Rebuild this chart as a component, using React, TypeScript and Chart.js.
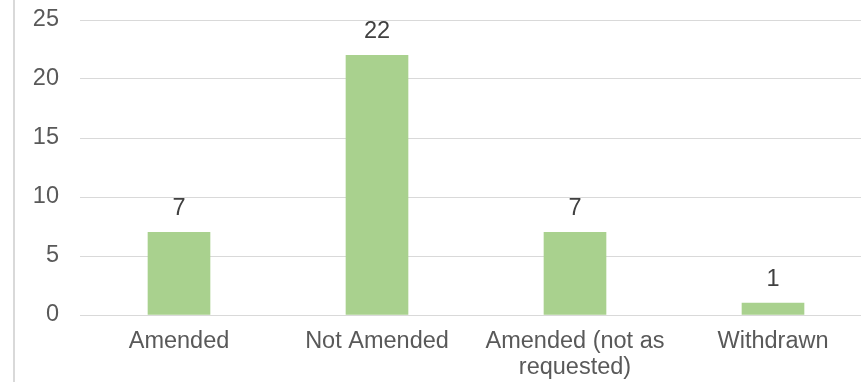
import React, { useEffect, useRef } from "react";
import { Chart, registerables } from "chart.js";

Chart.register(...registerables);

const categories: (string | string[])[] = [
  "Amended",
  "Not Amended",
  ["Amended (not as", "requested)"],
  "Withdrawn",
];
const counts: number[] = [7, 22, 7, 1];
const yMin = 0;
const yMax = 25;
const yStep = 5;

const FONT = "'Liberation Sans', Arial, sans-serif";
const FS = 23.5;

const valueLabels = {
  id: "valueLabels",
  afterDatasetsDraw(chart: any) {
    const ctx = chart.ctx;
    const meta = chart.getDatasetMeta(0);
    ctx.save();
    ctx.font = `${FS}px ${FONT}`;
    ctx.fillStyle = "#404040";
    ctx.textAlign = "center";
    ctx.textBaseline = "alphabetic";
    meta.data.forEach((bar: any, i: number) => {
      ctx.fillText(String(counts[i]), bar.x, bar.y - 17);
    });
    // left frame line
    ctx.strokeStyle = "#d9d9d9";
    ctx.lineWidth = 2;
    ctx.beginPath();
    ctx.moveTo(14, 0);
    ctx.lineTo(14, chart.height);
    ctx.stroke();
    ctx.restore();
  },
};

export default function App() {
  const ref = useRef<HTMLCanvasElement | null>(null);
  useEffect(() => {
    if (!ref.current) return;
    const chart = new Chart(ref.current, {
      type: "bar",
      data: {
        labels: categories,
        datasets: [
          {
            data: counts,
            backgroundColor: "#a9d18e",
            barThickness: 62,
          },
        ],
      },
      options: {
        animation: false,
        responsive: false,
        devicePixelRatio: 1,
        layout: { padding: { left: 0, right: 8, top: 20, bottom: 0 } },
        plugins: {
          legend: { display: false },
          tooltip: { enabled: false },
        },
        scales: {
          x: {
            grid: { display: false, drawTicks: false },
            border: { display: false },
            ticks: {
              color: "#595959",
              font: { family: FONT, size: FS, lineHeight: 1.11 },
              padding: 13,
              maxRotation: 0,
              autoSkip: false,
            },
            afterFit(scale: any) {
              scale.height = 67;
              scale.paddingLeft = 0;
              scale.paddingRight = 0;
              scale.paddingTop = 0;
              scale.paddingBottom = 0;
            },
          },
          y: {
            min: yMin,
            max: yMax,
            grid: { color: "#d9d9d9", lineWidth: 1, drawTicks: false },
            border: { display: false },
            ticks: {
              stepSize: yStep,
              color: "#595959",
              font: { family: FONT, size: FS },
              padding: 21,
            },
            afterFit(scale: any) {
              scale.width = 80;
              scale.paddingTop = 0;
              scale.paddingBottom = 0;
            },
          },
        },
      },
      plugins: [valueLabels],
    });
    return () => chart.destroy();
  }, []);
  return (
    <div
      style={{
        position: "fixed",
        left: 0,
        top: 0,
        width: 861,
        height: 382,
        overflow: "hidden",
        background: "#fff",
      }}
    >
      <canvas ref={ref} width={880} height={382} style={{ display: "block" }} />
    </div>
  );
}
